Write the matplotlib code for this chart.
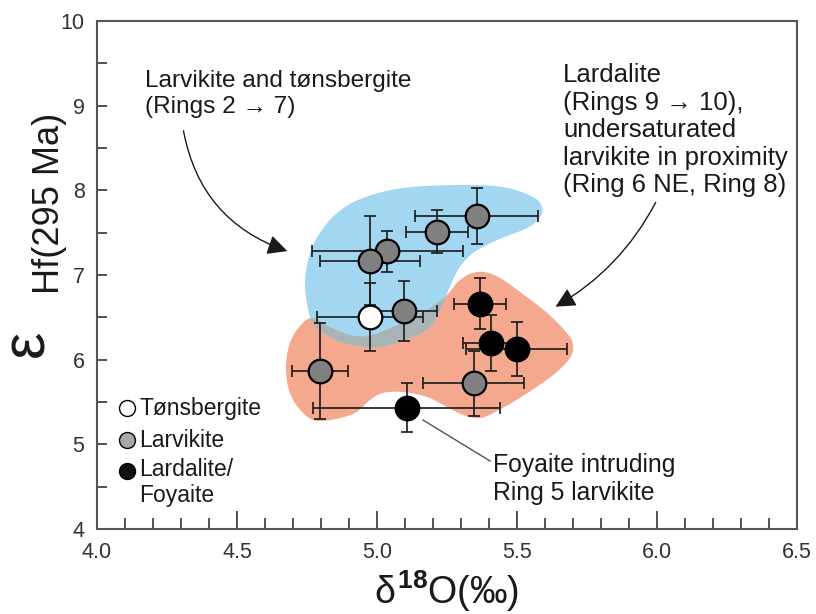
import numpy as np
import matplotlib
matplotlib.use('Agg')
from matplotlib import pyplot as plt, patches

plt.rcParams['font.family'] = ['Liberation Sans', 'DejaVu Sans']
plt.rcParams['mathtext.fontset'] = 'custom'
plt.rcParams['mathtext.rm'] = 'Liberation Sans'
plt.rcParams['mathtext.it'] = 'Liberation Sans'
plt.rcParams['mathtext.bf'] = 'Liberation Sans:bold'

# Larvikite (grey)
larv_x = [5.037, 4.975, 5.215, 5.356, 5.096, 4.796, 5.346]
larv_y = [7.28, 7.17, 7.51, 7.70, 6.57, 5.87, 5.72]
larv_xerr = [0.27, 0.18, 0.11, 0.22, 0.117, 0.10, 0.18]
larv_yerr = [0.245, 0.53, 0.255, 0.33, 0.355, 0.565, 0.38]

# Tonsbergite (white)
tons_x = [4.975]
tons_y = [6.50]
tons_xerr = [0.19]
tons_yerr = [0.40]

# Lardalite / foyaite (black)
lard_x = [5.368, 5.406, 5.499, 5.106]
lard_y = [6.66, 6.20, 6.13, 5.43]
lard_xerr = [0.094, 0.10, 0.18, 0.335]
lard_yerr = [0.30, 0.33, 0.32, 0.29]

# field outlines (d18O, eHf)
blue_x = [4.796, 4.857, 4.950, 5.093, 5.286, 5.450, 5.557, 5.589, 5.582, 5.536,
          5.429, 5.343, 5.296, 5.271, 5.225, 5.189, 5.118, 5.011, 4.914, 4.832,
          4.771, 4.750, 4.743, 4.761]
blue_y = [7.496, 7.732, 7.910, 8.028, 8.063, 8.039, 7.921, 7.803, 7.685, 7.555,
          7.413, 7.260, 7.095, 6.941, 6.587, 6.386, 6.256, 6.150, 6.173, 6.268,
          6.433, 6.669, 6.941, 7.260]
red_x = [4.725, 4.768, 4.832, 4.904, 4.968, 5.039, 5.118, 5.200, 5.250, 5.289,
         5.332, 5.382, 5.439, 5.511, 5.604, 5.675, 5.700, 5.689, 5.629, 5.521,
         5.429, 5.368, 5.307, 5.250, 5.179, 5.093, 5.021, 4.975, 4.914, 4.796,
         4.736, 4.689, 4.675, 4.689]
red_y = [6.398, 6.492, 6.386, 6.291, 6.280, 6.362, 6.480, 6.634, 6.764, 6.917,
         7.012, 7.036, 6.965, 6.799, 6.563, 6.327, 6.185, 6.020, 5.819, 5.571,
         5.394, 5.311, 5.347, 5.441, 5.559, 5.618, 5.606, 5.524, 5.358, 5.276,
         5.370, 5.606, 5.913, 6.197]

x_ticks = [4.0, 4.5, 5.0, 5.5, 6.0, 6.5]
y_ticks = [4, 5, 6, 7, 8, 9, 10]


def smooth_outline(xs, ys, n=20):
    # closed catmull-rom through the outline points
    pts = np.column_stack([xs, ys])
    m = len(pts)
    t = np.linspace(0, 1, n, endpoint=False)[:, None]
    out = []
    for i in range(m):
        p0, p1, p2, p3 = pts[i - 1], pts[i], pts[(i + 1) % m], pts[(i + 2) % m]
        out.append(0.5 * (2 * p1 + (-p0 + p2) * t
                          + (2 * p0 - 5 * p1 + 4 * p2 - p3) * t ** 2
                          + (-p0 + 3 * p1 - 3 * p2 + p3) * t ** 3))
    return np.vstack(out)


def main():
    fig = plt.figure(figsize=(8.16, 6.14), dpi=100)
    ax = fig.add_axes([0.1189, 0.1384, 0.8578, 0.8274])

    # fields
    red = patches.Polygon(smooth_outline(red_x, red_y), closed=True,
                          facecolor='#f4a98f', edgecolor='none', zorder=1)
    ax.add_patch(red)
    blue = patches.Polygon(smooth_outline(blue_x, blue_y), closed=True,
                           facecolor='#a3d6f1', edgecolor='none', zorder=1)
    ax.add_patch(blue)
    both = patches.Polygon(smooth_outline(blue_x, blue_y), closed=True,
                           facecolor='#a9b4b7', edgecolor='none', zorder=1.1)
    ax.add_patch(both)
    both.set_clip_path(red)

    # error bars
    eb = dict(fmt='none', ecolor='#1a1a1a', elinewidth=1.2, capsize=4.5,
              capthick=1.2, zorder=2)
    ax.errorbar(larv_x, larv_y, xerr=larv_xerr, yerr=larv_yerr, **eb)
    ax.errorbar(tons_x, tons_y, xerr=tons_xerr, yerr=tons_yerr, **eb)
    ax.errorbar(lard_x, lard_y, xerr=lard_xerr, yerr=lard_yerr, **eb)

    mk = dict(linestyle='none', marker='o', markersize=17,
              markeredgecolor='black', markeredgewidth=1.6, zorder=3)
    for x, y in zip(larv_x, larv_y):
        ax.plot(x, y, markerfacecolor='#808080', **mk)
    ax.plot(tons_x, tons_y, markerfacecolor='white', **mk)
    ax.plot(lard_x, lard_y, markerfacecolor='black', **mk)

    # legend
    lg = dict(linestyle='none', marker='o', markersize=11.5,
              markeredgecolor='black', markeredgewidth=1.0,
              transform=ax.transAxes, clip_on=False, zorder=4)
    ax.plot(0.043, 0.238, markerfacecolor='white', **lg)
    ax.plot(0.043, 0.175, markerfacecolor='#a8a8a8', **lg)
    ax.plot(0.043, 0.114, markerfacecolor='#111111', **lg)
    ax.text(0.060, 0.238, 'Tønsbergite', transform=ax.transAxes,
            fontsize=16.5, va='center', color='#1a1a1a')
    ax.text(0.060, 0.175, 'Larvikite', transform=ax.transAxes,
            fontsize=16.5, va='center', color='#1a1a1a')
    ax.text(0.060, 0.139, 'Lardalite/\nFoyaite', transform=ax.transAxes,
            fontsize=16.5, va='top', color='#1a1a1a', linespacing=1.15)

    # annotations
    ax.text(4.171, 9.42, 'Larvikite and tønsbergite\n(Rings 2 → 7)',
            fontsize=17.6, va='top', color='#1a1a1a', linespacing=1.25)
    ax.annotate('', xy=(4.689, 7.272), xytext=(4.307, 8.736),
                arrowprops=dict(arrowstyle='-|>', color='#1a1a1a', lw=1.0,
                                mutation_scale=30,
                                connectionstyle='arc3,rad=0.3'))
    ax.text(5.664, 9.50,
            'Lardalite\n(Rings 9 → 10),\nundersaturated\nlarvikite in proximity\n(Ring 6 NE, Ring 8)',
            fontsize=18.5, va='top', color='#1a1a1a', linespacing=1.18)
    ax.annotate('', xy=(5.629, 6.610), xytext=(6.0, 7.886),
                arrowprops=dict(arrowstyle='-|>', color='#1a1a1a', lw=1.0,
                                mutation_scale=30,
                                connectionstyle='arc3,rad=-0.15'))
    ax.text(5.414, 4.90, 'Foyaite intruding\nRing 5 larvikite',
            fontsize=17.8, va='top', color='#1a1a1a', linespacing=1.22)
    ax.plot([5.164, 5.404], [5.288, 4.803], color='#555555', lw=1.0, zorder=2)

    # axes
    ax.set_xlim(4.0, 6.5)
    ax.set_ylim(4, 10)
    ax.set_xticks(x_ticks)
    ax.set_xticklabels(['%.1f' % v for v in x_ticks])
    ax.set_xticks(np.arange(4.0, 6.5, 0.1), minor=True)
    ax.set_yticks(y_ticks)
    ax.set_yticks(np.arange(4.5, 10, 1.0), minor=True)
    ax.tick_params(which='both', direction='in', color='#333333', width=1.2,
                   labelsize=15.5, labelcolor='#333333', pad=9)
    ax.tick_params(axis='x', which='major', length=13)
    ax.tick_params(axis='x', which='minor', length=8)
    ax.tick_params(axis='y', which='both', length=7)
    for s in ax.spines.values():
        s.set_color('#555555')
        s.set_linewidth(1.5)

    ax.set_xlabel(r'$\delta^{\mathbf{18}}$O(‰)', fontsize=27, labelpad=4,
                  color='#1a1a1a')
    fig.text(0.034, 0.44, 'ε', fontsize=44, rotation=90, ha='center',
             va='center', color='#1a1a1a')
    fig.text(0.061, 0.668, 'Hf(295 Ma)', fontsize=26, rotation=90,
             ha='center', va='center', color='#1a1a1a')

    plt.savefig('out.png', dpi=100)


if __name__ == '__main__':
    main()
